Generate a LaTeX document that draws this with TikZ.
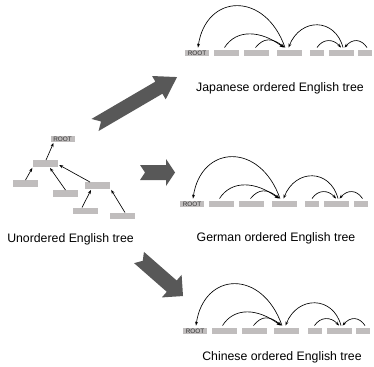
\documentclass[tikz,border=0pt]{standalone}
\usepackage{fontspec}
\setmainfont{Liberation Sans}
\usetikzlibrary{arrows.meta}
\definecolor{boxgray}{RGB}{192,189,189}
\definecolor{bigarrow}{RGB}{88,88,88}
% #1 row prefix
\newcommand\deparcs[1]{%
  \draw[dep] ([xshift=-4.5pt,yshift=2pt]#13.north) .. controls +(-20,-57) and +(8,-54) .. ([xshift=1pt,yshift=2pt]#10.north);
  \draw[dep] ([xshift=-2pt,yshift=2pt]#11.north) .. controls +(12,-19) and +(-22,-17) .. ([xshift=-6pt,yshift=2pt]#13.north);
  \draw[dep] ([xshift=-1pt,yshift=2pt]#12.north) .. controls +(8,-10) and +(-12,-10) .. ([xshift=-5pt,yshift=2pt]#13.north);
  \draw[dep] ([xshift=1.5pt,yshift=2pt]#15.north) .. controls +(-8,-30) and +(12,-30) .. ([xshift=-1pt,yshift=2pt]#13.north);
  \draw[dep] ([yshift=2pt]#14.north) .. controls +(6,-9) and +(-8,-9) .. ([xshift=-0.5pt,yshift=2pt]#15.north);
  \draw[dep] ([xshift=2pt,yshift=2pt]#16.north) .. controls +(-6,-9) and +(8,-9) .. ([xshift=3pt,yshift=2pt]#15.north);
}
% tail x, tail y, angle, length, body width, head width, head length, notch
\newcommand\notchedarrow[8]{%
  \begin{scope}[shift={(#1,#2)},rotate=#3]
    \fill[bigarrow] (0,-#5/2) -- (#4-#7,-#5/2) -- (#4-#7,-#6/2) -- (#4,0)
      -- (#4-#7,#6/2) -- (#4-#7,#5/2) -- (0,#5/2) -- (#8,0) -- cycle;
  \end{scope}
}
\begin{document}
\begin{tikzpicture}[x=1pt,y=-1pt,
  wbox/.style={fill=boxgray, minimum height=6.5pt, inner sep=0pt, minimum width=25pt},
  rootbox/.style={wbox, minimum width=24pt, font=\fontsize{6.4}{6.5}\selectfont, text=black!80},
  sbox/.style={wbox, minimum width=14pt},
  dep/.style={-{Stealth[length=4pt,width=3pt]}, line width=0.65pt},
  caption/.style={font=\fontsize{12.3}{14}\selectfont}]
\useasboundingbox (0,0) rectangle (374,366);

% ---------- left tree ----------
\node[rootbox] (r) at (62.5,139) {ROOT};
\node[wbox] (a) at (45.5,163.5) {};
\node[wbox] (b) at (25.5,183.5) {};
\node[wbox] (c) at (65.5,193.5) {};
\node[wbox] (d) at (97.5,185.5) {};
\node[wbox] (e) at (85.5,211) {};
\node[wbox] (f) at (122.5,216) {};
\draw[dep] ([xshift=0.5pt]a.north) -- ([xshift=-9pt,yshift=-0.5pt]r.south);
\draw[dep] (b.north) -- ([xshift=-0.5pt,yshift=-1pt]a.south west);
\draw[dep] (c.north) -- ([xshift=4.5pt,yshift=-1pt]a.south);
\draw[dep] ([xshift=-7.5pt]d.north) -- ([xshift=1pt,yshift=-1.5pt]a.east);
\draw[dep] ([xshift=-3.5pt]e.north) -- ([xshift=-6.5pt,yshift=-1pt]d.south);
\draw[dep] ([xshift=2.5pt]f.north) -- ([xshift=1pt,yshift=-1pt]d.south east);
\node[caption] (tu) at (70.5,239) {Unordered English tree};

% ---------- Japanese row ----------
\node[rootbox] (j0) at (197,53) {ROOT};
\node[wbox] (j1) at (226.5,53) {};
\node[wbox] (j2) at (256.5,53) {};
\node[wbox] (j3) at (289.5,53) {};
\node[sbox] (j4) at (317,53) {};
\node[wbox] (j5) at (341.5,53) {};
\node[sbox] (j6) at (365,53) {};
\deparcs{j}
\node[caption] (tj) at (280,88.5) {Japanese ordered English tree};

% ---------- German row ----------
\node[rootbox] (g0) at (192,204) {ROOT};
\node[wbox] (g1) at (221.5,204) {};
\node[wbox] (g2) at (251.5,204) {};
\node[wbox] (g3) at (284.5,204) {};
\node[sbox] (g4) at (312,204) {};
\node[wbox] (g5) at (336.5,204) {};
\node[sbox] (g6) at (360.5,204) {};
\deparcs{g}
\node[caption] (tg) at (276,238) {German ordered English tree};

% ---------- Chinese row ----------
\node[rootbox] (c0) at (195,331) {ROOT};
\node[wbox] (c1) at (224.5,331) {};
\node[wbox] (c2) at (254.5,331) {};
\node[wbox] (c3) at (286.5,331) {};
\node[sbox] (c4) at (314.5,331) {};
\node[wbox] (c5) at (339.5,331) {};
\node[sbox] (c6) at (363,331) {};
\deparcs{c}
\node[caption] (tc) at (282,357) {Chinese ordered English tree};

% ---------- big arrows ----------
\notchedarrow{95}{125}{30.3}{95}{14}{27}{21}{7}
\notchedarrow{140}{172.5}{0}{35}{15}{27}{9}{5}
\notchedarrow{139}{257.5}{-41.2}{58.5}{15}{30}{15}{5}
\end{tikzpicture}
\end{document}
